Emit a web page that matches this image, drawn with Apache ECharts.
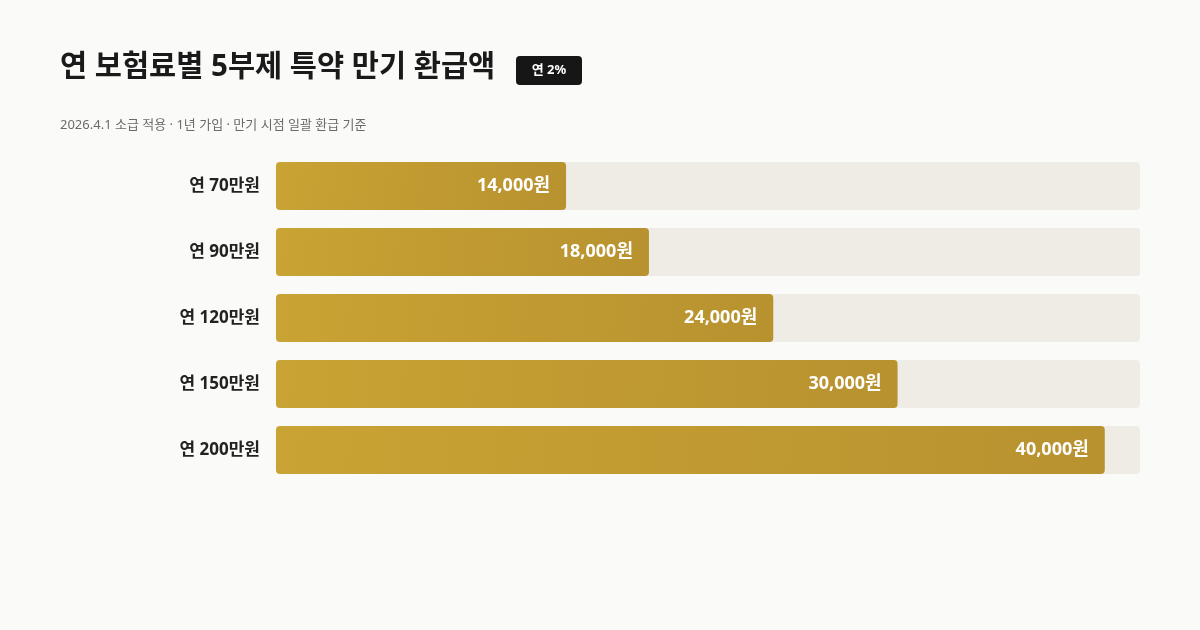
<!DOCTYPE html>
<html><head><meta charset="utf-8">
<script src="https://cdn.jsdelivr.net/npm/echarts@6/dist/echarts.min.js"></script>
<style>html,body{margin:0;padding:0;background:#FAFAF8;}#c{width:1200px;height:630px;}</style>
</head><body><div id="c"></div>
<script>
const categories = ['연 70만원', '연 90만원', '연 120만원', '연 150만원', '연 200만원'];
const refundValues = [14000, 18000, 24000, 30000, 40000];
const axisMax = 41700;
const titleText = '연 보험료별 5부제 특약 만기 환급액';
const badgeText = '연 2%';
const subtitleText = '2026.4.1 소급 적용 · 1년 가입 · 만기 시점 일괄 환급 기준';
const FONT = '"Noto Sans", "Noto Sans CJK KR", sans-serif';

const chart = echarts.init(document.getElementById('c'), null, {renderer: 'canvas'});
chart.setOption({
  backgroundColor: '#FAFAF8',
  animation: false,
  grid: {left: 276, right: 60, top: 153, height: 330, containLabel: false},
  xAxis: {type: 'value', min: 0, max: axisMax, show: false},
  yAxis: {
    type: 'category', data: categories, inverse: true,
    axisLine: {show: false}, axisTick: {show: false}, splitLine: {show: false},
    axisLabel: {margin: 16, color: '#222', fontSize: 17, fontWeight: 'bold', fontFamily: FONT}
  },
  series: [{
    type: 'bar', data: refundValues, barWidth: 48,
    showBackground: true,
    backgroundStyle: {color: '#EFECE6', borderRadius: 4},
    itemStyle: {
      borderRadius: 4,
      color: new echarts.graphic.LinearGradient(0, 0, 1, 1, [
        {offset: 0, color: '#C9A333'}, {offset: 1, color: '#B8922F'}
      ])
    },
    label: {
      show: true, position: 'insideRight', offset: [-11, 0],
      color: '#fff', fontSize: 18, fontWeight: 'bold', fontFamily: FONT,
      formatter: p => p.value.toLocaleString('en-US') + '원'
    }
  }],
  graphic: [
    {type: 'text', x: 60, y: 68, style: {text: titleText, fill: '#1a1a1a', font: 'bold 29.5px ' + FONT, verticalAlign: 'middle'}},
    {type: 'rect', shape: {x: 516, y: 56, width: 66, height: 29, r: 4}, style: {fill: '#161616'}},
    {type: 'text', x: 549, y: 70.5, style: {text: badgeText, fill: '#fff', font: 'bold 13px ' + FONT, align: 'center', verticalAlign: 'middle'}},
    {type: 'text', x: 60, y: 125, style: {text: subtitleText, fill: '#6b6b6b', font: '13px ' + FONT, verticalAlign: 'middle'}}
  ]
});
</script></body></html>
